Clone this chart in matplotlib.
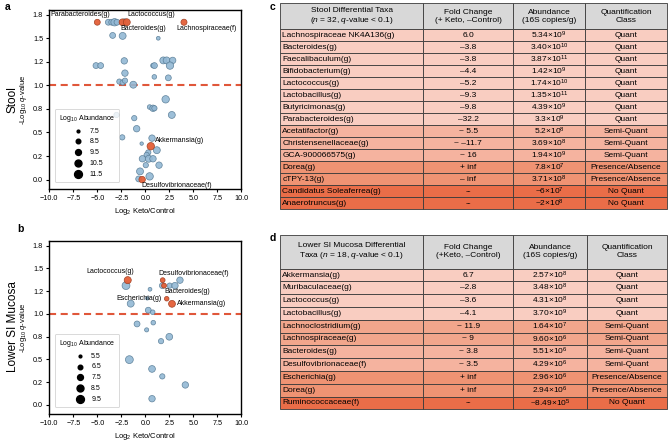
import numpy as np
import matplotlib.pyplot as plt
from matplotlib.ticker import FixedLocator, FuncFormatter
from matplotlib.table import Table

plt.rcParams['font.family'] = ['Liberation Sans', 'DejaVu Sans']
plt.rcParams['mathtext.fontset'] = 'custom'
plt.rcParams['mathtext.rm'] = 'Liberation Sans'
plt.rcParams['mathtext.it'] = 'Liberation Sans:italic'
plt.rcParams['mathtext.bf'] = 'Liberation Sans:bold'

# ---- panel a: stool (log2 fold change, -log10 q, log10 abundance) ----
stool_x = [-3.85, -3.5, -3.2, -2.95, -2.15, -3.4, -2.36, 1.35, -2.19, -5.14,
           -4.65, 0.8, 0.95, 1.875, 2.22, 2.85, 2.57, 0.94, 2.4, -2.12,
           -2.7, -2.36, -2.12, -1.25, 2.12, 0.45, 0.8, 0.95, 2.76, -3.0,
           -1.15, -0.9, -2.4, 0.7, -0.38, 1.2, 0.31, 0.14, -0.3, 0.36,
           0.8, 0.05, 1.43, -0.55, 0.45, -0.69]
stool_q = [1.67, 1.67, 1.67, 1.67, 1.67, 1.53, 1.525, 1.50, 1.26, 1.21,
           1.21, 1.21, 1.21, 1.265, 1.265, 1.265, 1.21, 1.09, 1.08, 1.13,
           1.04, 1.03, 1.05, 1.007, 0.852, 0.77, 0.757, 0.757, 0.686, 0.686,
           0.652, 0.54, 0.448, 0.44, 0.382, 0.312, 0.288, 0.262, 0.221, 0.221,
           0.221, 0.153, 0.153, 0.087, 0.034, 0.007]
stool_ab = [9.5, 9.5, 11.0, 9.5, 10.5, 9.5, 10.5, 8.0, 10.0, 9.5,
            9.5, 8.5, 9.5, 10.5, 10.5, 10.0, 11.0, 8.5, 9.5, 10.0,
            9.0, 9.0, 9.0, 10.5, 11.0, 8.5, 10.0, 9.0, 10.5, 9.0,
            9.0, 10.0, 9.0, 10.0, 7.8, 10.5, 9.0, 9.0, 10.0, 10.5,
            10.0, 9.0, 10.0, 10.5, 11.0, 9.5]

stool_hit_x = [-5.0, -2.38, -1.93, 4.03, 0.57, -0.33]
stool_hit_q = [1.67, 1.67, 1.67, 1.67, 0.354, 0.0]
stool_hit_ab = [9.52, 10.24, 10.53, 9.7, 11.0, 10.0]

stool_labels = ['Parabacteroides(g)', 'Lactococcus(g)', 'Bacteroides(g)',
                'Lachnospiraceae(f)', 'Akkermansia(g)', 'Desulfovibrionaceae(f)']
stool_label_xy = [(-9.9, 1.75), (-1.87, 1.75), (-2.6, 1.60), (3.27, 1.60),
                  (1.0, 0.41), (-0.38, -0.065)]

# ---- panel b: lower SI mucosa ----
muc_x = [-2.01, 0.49, 1.78, 2.54, 3.09, 3.61, -1.52, 0.21, 0.31, 0.77,
         -0.86, 0.83, 0.14, 1.64, 2.5, -1.66, 0.70, 1.77, 4.17, 0.70]
muc_q = [1.31, 1.27, 1.31, 1.31, 1.31, 1.37, 1.112, 1.17, 1.04, 1.018,
         0.889, 0.903, 0.824, 0.70, 0.748, 0.497, 0.395, 0.313, 0.219, 0.068]
muc_ab = [9.5, 6.0, 7.5, 7.0, 8.0, 8.0, 8.5, 5.8, 7.5, 6.5,
          7.5, 6.5, 6.2, 7.0, 8.3, 9.5, 8.3, 7.0, 8.0, 8.0]

muc_hit_x = [-1.83, 1.81, 1.95, 2.23, 2.78]
muc_hit_q = [1.37, 1.37, 1.31, 1.166, 1.11]
muc_hit_ab = [8.63, 6.63, 6.74, 6.47, 8.41]

muc_labels = ['Lactococcus(g)', 'Desulfovibrionaceae(f)', 'Bacteroides(g)',
              'Escherichia(g)', 'Akkermansia(g)']
muc_label_xy = [(-6.1, 1.46), (1.36, 1.44), (1.95, 1.245), (-3.04, 1.17), (3.3, 1.11)]

# ---- table c ----
stool_taxa = ['Lachnospiraceae NK4A136(g)', 'Bacteroides(g)', 'Faecalibaculum(g)',
              'Bifidobacterium(g)', 'Lactococcus(g)', 'Lactobacillus(g)',
              'Butyricimonas(g)', 'Parabacteroides(g)', 'Acetatifactor(g)',
              'Christensenellaceae(g)', 'GCA-900066575(g)', 'Dorea(g)',
              'cTPY-13(g)', 'Candidatus Soleaferrea(g)', 'Anaerotruncus(g)']
stool_fold = ['6.0', '–3.8', '–3.8', '–4.4', '–5.2', '–9.3', '–9.8', '–32.2',
              '~ 5.5', '~ –11.7', '~ 16', '+ inf', '– inf', '--', '--']
stool_abund = ['5.34×10$^{9}$', '3.40×10$^{10}$', '3.87×10$^{11}$', '1.42×10$^{9}$',
               '1.74×10$^{10}$', '1.35×10$^{11}$', '4.39×10$^{9}$', '3.3×10$^{9}$',
               '5.2×10$^{8}$', '3.69×10$^{8}$', '1.94×10$^{9}$', '7.8×10$^{7}$',
               '3.71×10$^{8}$', '~6×10$^{7}$', '~2×10$^{8}$']
stool_class = ['Quant'] * 8 + ['Semi-Quant'] * 3 + ['Presence/Absence'] * 2 + ['No Quant'] * 2

# ---- table d ----
muc_taxa = ['Akkermansia(g)', 'Muribaculaceae(g)', 'Lactococcus(g)', 'Lactobacillus(g)',
            'Lachnoclostridium(g)', 'Lachnospiraceae(g)', 'Bacteroides(g)',
            'Desulfovibrionaceae(f)', 'Escherichia(g)', 'Dorea(g)', 'Ruminococcaceae(f)']
muc_fold = ['6.7', '–2.8', '–3.6', '–4.1', '~ 11.9', '~ 9', '~ 3.8', '~ 3.5',
            '+ inf', '+ inf', '--']
muc_abund = ['2.57×10$^{8}$', '3.48×10$^{8}$', '4.31×10$^{8}$', '3.70×10$^{9}$',
             '1.64×10$^{7}$', '9.60×10$^{6}$', '5.51×10$^{6}$', '4.29×10$^{6}$',
             '2.96×10$^{6}$', '2.94×10$^{6}$', '~8.49×10$^{5}$']
muc_class = ['Quant'] * 4 + ['Semi-Quant'] * 4 + ['Presence/Absence'] * 2 + ['No Quant']

stool_header = ['Stool Differential Taxa\n($n$ = 32, $q$-value < 0.1)',
                'Fold Change\n(+ Keto, –Control)', 'Abundance\n(16S copies/g)',
                'Quantification\nClass']
muc_header = ['Lower SI Mucosa Differential\nTaxa ($n$ = 18, $q$-value < 0.1)',
              'Fold Change\n(+Keto, –Control)', 'Abundance\n(16S copies/g)',
              'Quantification\nClass']

# styles
BLUE, BLUE_EDGE = '#93b8d4', '#557a94'
ORANGE, ORANGE_EDGE = '#e45f38', '#9e3d20'
CLASS_COLOR = {'Quant': '#f9cdc1', 'Semi-Quant': '#f5b39f',
               'Presence/Absence': '#ef9373', 'No Quant': '#ea6d48'}
HEAD_BG = '#d8d8d8'
W, H = 669, 443


def size(ab, amin):
    return 4 + (np.asarray(ab) - amin) * 7.0


def fig_rect(l, t, r, b):
    return [l / W, 1 - b / H, (r - l) / W, (b - t) / H]


def minus_fmt(v, pos):
    return ('%.1f' % v).replace('-', '\u2212')


def scatter_panel(ax, x, q, ab, hx, hq, hab, labels, label_xy, amin, levels):
    ax.scatter(x, q, s=size(ab, amin), c=BLUE, edgecolors=BLUE_EDGE,
               linewidths=0.5, alpha=0.9, zorder=3)
    ax.scatter(hx, hq, s=size(hab, amin), c=ORANGE, edgecolors=ORANGE_EDGE,
               linewidths=0.5, alpha=0.95, zorder=4)
    ax.axhline(1.0, color='#e0573a', lw=1.5, ls=(0, (3.4, 2.2)), zorder=2)
    for lab, (tx, ty) in zip(labels, label_xy):
        ax.text(tx, ty, lab, fontsize=5, ha='left', va='center', zorder=5)
    ax.set_xlim(-10, 10)
    ax.set_ylim(-0.1, 1.8)
    ax.xaxis.set_major_locator(FixedLocator(np.arange(-10, 10.1, 2.5)))
    ax.xaxis.set_major_formatter(FuncFormatter(minus_fmt))
    ax.yaxis.set_major_locator(FixedLocator(np.arange(0, 1.8, 0.25)))
    ax.yaxis.set_major_formatter(FuncFormatter(minus_fmt))
    ax.tick_params(labelsize=5.2, length=2.5, width=0.8, pad=2)
    for sp in ax.spines.values():
        sp.set_linewidth(1.0)
    ax.set_xlabel('Log$_2$ Keto/Control', fontsize=5.5, labelpad=3)
    ax.set_ylabel('-Log$_{10}$ $q$-value', fontsize=5.5, labelpad=3)
    handles = [ax.scatter([], [], s=size(v, amin), c='k') for v in levels]
    leg = ax.legend(handles, ['%.1f' % v for v in levels], loc='lower left',
                    title='Log$_{10}$ Abundance', fontsize=5, title_fontsize=5,
                    frameon=True, fancybox=True, edgecolor='#c8c8c8',
                    labelspacing=0.55, borderpad=0.6, handletextpad=0.6,
                    bbox_to_anchor=(0.01, 0.02))
    leg.get_frame().set_linewidth(0.6)


def draw_table(ax, header, cols, colors, widths, head_h):
    ax.axis('off')
    tab = Table(ax, bbox=[0, 0, 1, 1])
    for c, (lab, w) in enumerate(zip(header, widths)):
        cell = tab.add_cell(0, c, w, head_h, text=lab, loc='center',
                            facecolor=HEAD_BG, edgecolor='#3a3a3a')
        cell.get_text().set_linespacing(1.15)
    for r, row in enumerate(zip(*cols), start=1):
        for c, val in enumerate(row):
            cell = tab.add_cell(r, c, widths[c], 1, text=val,
                                loc='left' if c == 0 else 'center',
                                facecolor=colors[r - 1], edgecolor='#3a3a3a')
            if c == 0:
                cell.PAD = 0.015
    for cell in tab.get_celld().values():
        cell.set_linewidth(0.6)
    tab.auto_set_font_size(False)
    tab.set_fontsize(6.0)
    ax.add_table(tab)


fig = plt.figure(figsize=(W / 100, H / 100), dpi=100)

ax_a = fig.add_axes(fig_rect(49.3, 10, 241.3, 189))
scatter_panel(ax_a, stool_x, stool_q, stool_ab, stool_hit_x, stool_hit_q, stool_hit_ab,
              stool_labels, stool_label_xy, 7.5, [7.5, 8.5, 9.5, 10.5, 11.5])

ax_b = fig.add_axes(fig_rect(49.3, 241, 241.3, 414))
scatter_panel(ax_b, muc_x, muc_q, muc_ab, muc_hit_x, muc_hit_q, muc_hit_ab,
              muc_labels, muc_label_xy, 5.5, [5.5, 6.5, 7.5, 8.5, 9.5])

fig.text(13 / W, 1 - 99.5 / H, 'Stool', rotation=90, fontsize=8.5, ha='center', va='center')
fig.text(13 / W, 1 - 327 / H, 'Lower SI Mucosa', rotation=90, fontsize=8.5,
         ha='center', va='center')

stool_colors = [CLASS_COLOR[k] for k in stool_class]
muc_colors = [CLASS_COLOR[k] for k in muc_class]
muc_colors[4] = muc_colors[5] = '#f2a68c'

ax_c = fig.add_axes(fig_rect(280, 3.3, 667.3, 209.3))
draw_table(ax_c, stool_header, [stool_taxa, stool_fold, stool_abund, stool_class],
           stool_colors, [143.3, 90, 71.7, 82.3], 26 / 12.0)

ax_d = fig.add_axes(fig_rect(280, 234.5, 667.3, 409.3))
draw_table(ax_d, muc_header, [muc_taxa, muc_fold, muc_abund, muc_class],
           muc_colors, [143.3, 90, 73.3, 80.7], 34 / 12.75)

for lab, (px, py) in zip('abcd', [(8, 7), (20, 229), (272, 7), (273, 238)]):
    fig.text(px / W, 1 - py / H, lab, fontsize=7.5, fontweight='bold',
             ha='center', va='center')

fig.savefig('out.png', dpi=100)
